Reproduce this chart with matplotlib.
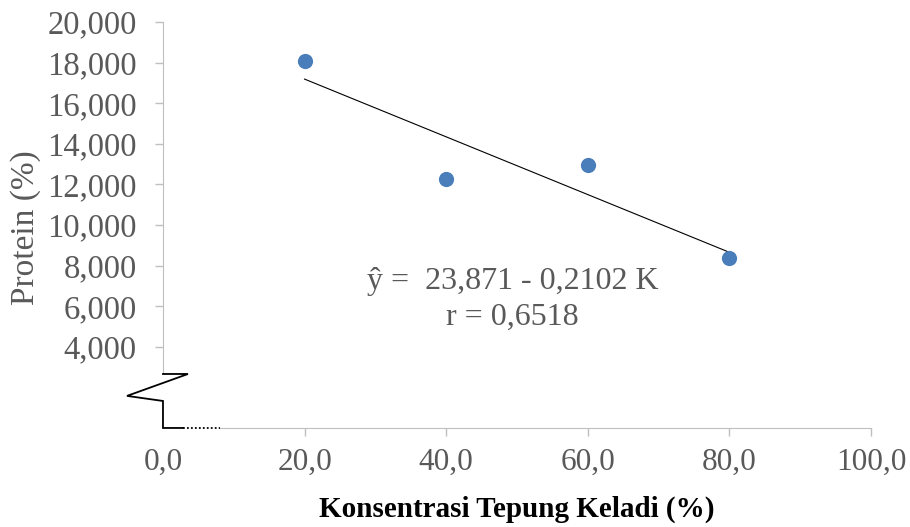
import matplotlib
matplotlib.use('Agg')
import matplotlib.pyplot as plt
import numpy as np

# Kadar protein terhadap konsentrasi tepung keladi
konsentrasi = [20, 40, 60, 80]
protein = [18.08, 12.27, 12.96, 8.37]

x_ticks = [0, 20, 40, 60, 80, 100]
y_ticks = [4, 6, 8, 10, 12, 14, 16, 18, 20]

persamaan = "ŷ =  23,871 - 0,2102 K"
korelasi = "r = 0,6518"

TEKS = '#595959'
GARIS = '#bfbfbf'
BIRU = '#4a7ebb'

plt.rcParams['font.family'] = ['Liberation Serif', 'DejaVu Serif']

fig = plt.figure(figsize=(9.1, 5.27), dpi=100)
ax = fig.add_axes([0.1791, 0.1879, 0.778, 0.7704])

ax.scatter(konsentrasi, protein, s=120, color=BIRU, zorder=3, linewidths=0)

# garis regresi linear
b, a = np.polyfit(konsentrasi, protein, 1)
xs = np.array([min(konsentrasi), max(konsentrasi)])
ax.plot(xs, a + b * xs, color='black', lw=0.8, zorder=2)

ax.set_xlim(0, 100)
ax.set_ylim(0, 20)
ax.set_xticks(x_ticks)
ax.set_xticklabels([f"{v:.1f}".replace('.', ',') for v in x_ticks])
ax.set_yticks(y_ticks)
ax.set_yticklabels([f"{v:.3f}".replace('.', ',') for v in y_ticks])

for s in ['top', 'right']:
    ax.spines[s].set_visible(False)
ax.spines['left'].set_color(GARIS)
ax.spines['bottom'].set_color(GARIS)
ax.spines['left'].set_bounds(2.66, 20)
ax.spines['bottom'].set_bounds(8.05, 100)

ax.tick_params(axis='y', colors=GARIS, labelcolor=TEKS, labelsize=23.5,
               length=6, width=1, pad=13)
ax.tick_params(axis='x', colors=GARIS, labelcolor=TEKS, labelsize=22.5,
               length=6, width=1, pad=8)
ax.xaxis.get_major_ticks()[0].tick1line.set_visible(False)

# tanda patahan sumbu (zigzag) di pojok kiri bawah
zx = [0, 3.53, -5.08, 0, 0, 2.82]
zy = [2.66, 2.66, 1.58, 1.33, 0, 0]
ax.plot(zx, zy, color='black', lw=1.3, clip_on=False, zorder=4,
        solid_joinstyle='miter')
ax.plot([2.82, 8.05], [0, 0], color='black', lw=1.3, ls=(0, (1, 1.2)),
        clip_on=False, zorder=4)

ax.text(49.4, 7.24, persamaan, ha='center', va='center', fontsize=23, color=TEKS)
ax.text(49.4, 5.47, korelasi, ha='center', va='center', fontsize=23, color=TEKS)

fig.text(26 / 910, 1 - 228 / 527, "Protein (%)", rotation=90, ha='center',
         va='center', fontsize=24, color=TEKS)
fig.text(517 / 910, 1 - 509 / 527, "Konsentrasi Tepung Keladi (%)", ha='center',
         va='center', fontsize=21, fontweight='bold', color='black')

fig.savefig('out.png', dpi=100)
